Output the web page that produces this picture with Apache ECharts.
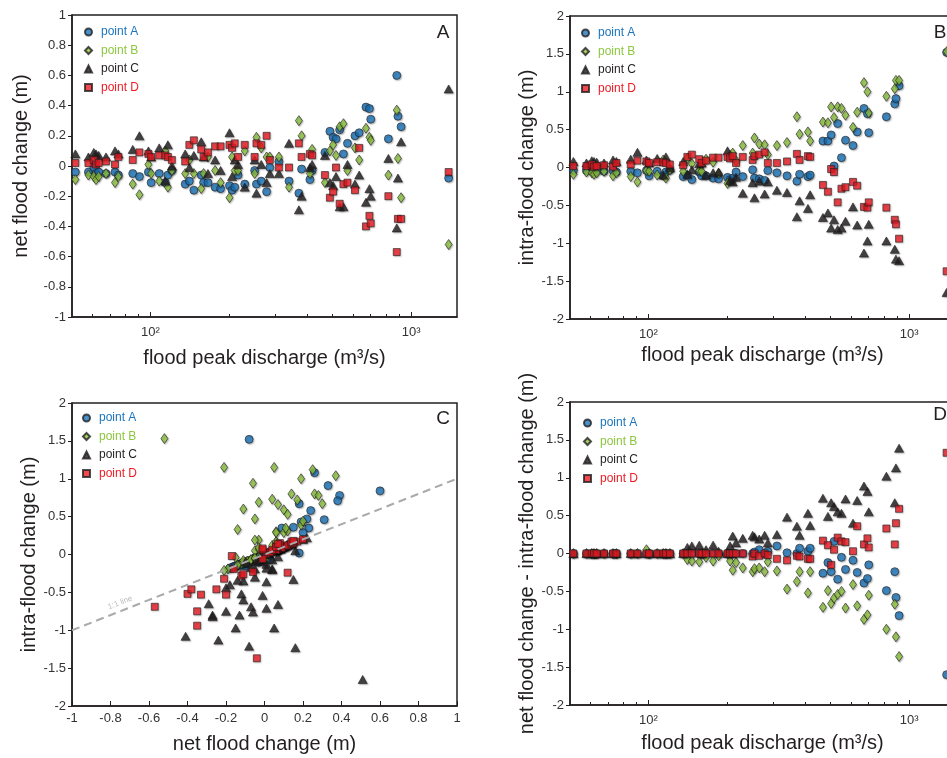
<!DOCTYPE html>
<html>
<head>
<meta charset="utf-8">
<title>Flood change vs. peak discharge</title>
<script src="https://cdn.jsdelivr.net/npm/echarts@6/dist/echarts.min.js"></script>
<style>
  html, body { margin: 0; padding: 0; overflow: hidden; background: #fff; }
  #chart { width: 1000px; height: 758px; }
</style>
</head>
<body>
<div id="chart"></div>
<script>
// ---- data: one entry per flood event ----
const discharge = [51.5, 57.8, 60.6, 61.8, 63.3, 67.5, 73.1, 75.3, 85.5, 90.7,
  98.2, 100.6, 108, 113.9, 116.6, 120.8, 135.9, 141, 146.7, 156.6,
  159.9, 166.2, 177, 185.8, 201, 205.6, 210.5, 216.7, 230, 251,
  255, 266, 279, 287, 311, 340, 371, 380, 409, 417,
  467, 488, 502, 515, 532, 550, 570, 609, 632, 671,
  692, 700, 818, 881, 890, 915, 1393];

// net flood change (m) at each survey point
const netA = [-0.04, -0.04, -0.01, -0.05, -0.04, -0.05, -0.04, -0.06, -0.05, -0.07,
  -0.04, -0.11, -0.05, -0.11, -0.06, -0.03, -0.12, -0.10, -0.16, -0.06,
  -0.11, -0.11, -0.14, -0.15, -0.13, -0.16, -0.14, -0.06, -0.12, -0.03,
  -0.12, -0.10, -0.17, -0.01, 0.03, -0.10, -0.18, -0.02, -0.09, -0.03,
  0.09, 0.23, 0.19, 0.18, 0.24, 0.08, 0.15, 0.20, 0.22, 0.39,
  0.38, 0.31, 0.18, 0.60, 0.33, 0.26, -0.08];
const netB = [-0.09, -0.06, -0.07, -0.09, -0.07, -0.05, -0.11, -0.07, -0.12, -0.19,
  0.01, -0.05, -0.10, 0.10, -0.14, -0.03, -0.05, 0.04, -0.05, -0.15,
  -0.05, 0.06, -0.03, -0.11, -0.21, 0.06, -0.03, -0.03, 0.10, -0.05,
  0.19, 0.12, 0.06, 0.06, 0.06, -0.14, 0.30, 0.20, -0.05, 0.11,
  -0.11, 0.10, 0.14, 0.07, 0.26, 0.28, -0.03, 0.12, 0.04, 0.25,
  0.19, 0.17, -0.06, 0.37, 0.05, -0.21, -0.52];
const netC = [0.08, 0.06, 0.09, 0.08, 0.07, 0.06, 0.10, 0.08, 0.11, 0.20,
  0.10, 0.06, 0.12, -0.10, 0.14, 0.00, 0.08, -0.01, 0.07, 0.16,
  0.06, -0.05, 0.04, -0.03, 0.22, -0.07, 0.04, 0.01, -0.14, 0.04,
  -0.18, 0.01, -0.11, -0.05, -0.05, 0.15, -0.29, -0.20, -0.01, 0.01,
  0.07, -0.11, -0.13, -0.07, -0.27, -0.27, 0.01, -0.12, -0.06, -0.24,
  -0.15, -0.20, 0.05, -0.41, -0.08, 0.16, 0.51];
const netD = [0.02, 0.02, 0.04, 0.01, 0.02, 0.03, 0.01, 0.06, 0.04, 0.09,
  0.08, 0.06, 0.07, 0.07, 0.06, 0.04, 0.03, 0.14, 0.17, 0.11,
  0.06, 0.09, 0.13, 0.13, 0.14, 0.12, 0.15, 0.06, 0.14, 0.06,
  0.15, 0.14, 0.20, 0.04, -0.01, -0.01, 0.15, 0.06, 0.08, 0.07,
  -0.06, -0.21, -0.17, -0.01, -0.25, -0.12, -0.11, -0.16, 0.12, -0.40,
  -0.33, -0.38, -0.20, -0.57, -0.35, -0.35, -0.04];

// intra-flood change (m) at each survey point
const intraA = [-0.04, -0.04, -0.01, -0.05, -0.04, -0.05, -0.04, -0.06, -0.05, -0.07,
  -0.04, -0.11, -0.05, -0.11, -0.06, -0.03, -0.12, -0.10, -0.16, -0.06,
  -0.11, -0.11, -0.14, -0.15, -0.13, -0.16, -0.14, -0.06, -0.12, -0.03,
  -0.14, -0.15, -0.17, -0.04, -0.07, -0.11, -0.18, -0.09, -0.12, -0.10,
  0.35, 0.35, 0.43, 0.02, 0.58, 0.13, 0.36, 0.29, 0.47, 0.78,
  0.71, 0.46, 0.67, 0.84, 0.91, 1.08, 1.52];
const intraB = [-0.09, -0.06, -0.07, -0.09, -0.07, -0.05, -0.11, -0.07, -0.12, -0.19,
  -0.04, -0.05, -0.10, 0.10, -0.14, -0.03, -0.05, 0.12, 0.05, -0.04,
  -0.05, 0.11, 0.07, -0.08, -0.21, 0.16, 0.19, 0.09, 0.29, 0.19,
  0.39, 0.31, 0.30, 0.17, 0.29, 0.33, 0.67, 0.44, 0.47, 0.35,
  0.60, 0.59, 0.80, 0.66, 0.80, 0.78, 0.69, 0.53, 0.73, 1.12,
  1.00, 0.72, 0.94, 1.04, 1.15, 1.15, 1.53];
const intraC = [0.08, 0.06, 0.09, 0.08, 0.07, 0.06, 0.10, 0.08, 0.11, 0.20,
  0.10, 0.06, 0.12, -0.10, 0.14, 0.00, 0.08, -0.09, -0.03, 0.05,
  0.06, -0.10, -0.07, -0.06, 0.22, -0.17, -0.19, -0.13, -0.34, -0.20,
  -0.40, -0.18, -0.35, -0.19, -0.30, -0.33, -0.65, -0.44, -0.54, -0.36,
  -0.66, -0.60, -0.80, -0.69, -0.82, -0.80, -0.71, -0.52, -0.76, -1.13,
  -0.97, -0.75, -0.97, -1.08, -1.21, -1.23, -1.65];
const intraD = [0.02, 0.02, 0.04, 0.01, 0.02, 0.03, 0.01, 0.06, 0.04, 0.09,
  0.08, 0.06, 0.07, 0.07, 0.06, 0.04, 0.03, 0.14, 0.17, 0.11,
  0.06, 0.09, 0.13, 0.13, 0.14, 0.12, 0.15, 0.06, 0.14, 0.10,
  0.15, 0.17, 0.20, 0.06, 0.06, 0.08, 0.18, 0.10, 0.15, 0.14,
  -0.23, -0.32, -0.02, -0.06, -0.46, -0.28, -0.26, -0.19, -0.24, -0.52,
  -0.53, -0.46, -0.53, -0.69, -0.75, -0.94, -1.37];

const pointNames = ['point A', 'point B', 'point C', 'point D'];
const logMinorTicks = [60, 70, 80, 90, 200, 300, 400, 500, 600, 700, 800, 900];
const oneToOne = [[-1, -1], [1, 1]];
const panelLetters = ['A', 'B', 'C', 'D'];

// ---- styling ----
const FONT = "'Liberation Sans', Arial, Helvetica, sans-serif";
const INK = '#231f20';
const TICK_TEXT = '#333';
const pointColors = ['#1c75bc', '#8dc63f', '#231f20', '#ed1c24'];
const pointSymbols = ['circle', 'diamond', 'triangle', 'rect'];
const pointSizes = [8, [7, 10], [9, 8], 7];

const netAll = [netA, netB, netC, netD];
const intraAll = [intraA, intraB, intraC, intraD];

const grids = [
  { left: 72,  top: 15,  width: 385, height: 302 },
  { left: 570, top: 16,  width: 385, height: 303 },
  { left: 72,  top: 403, width: 385, height: 303 },
  { left: 570, top: 402, width: 385, height: 303 }
];

const supDigits = { 1: '\u00b9', 2: '\u00b2', 3: '\u00b3', 4: '\u2074' };
function powerLabel(v) {
  const e = Math.log10(v);
  const r = Math.round(e);
  return Math.abs(e - r) < 1e-6 ? '10' + supDigits[r] : '';
}

function logAxis(gridIndex, nameGap) {
  return {
    type: 'log', logBase: 10, gridIndex: gridIndex, min: 50, max: 1500,
    name: 'flood peak discharge (m\u00b3/s)', nameLocation: 'middle', nameGap: nameGap,
    nameTextStyle: { fontSize: 20, color: INK, fontFamily: FONT },
    axisLine: { show: true, onZero: false, lineStyle: { color: INK, width: 1.5 } },
    axisTick: { show: true, inside: true, length: 5, lineStyle: { color: INK, width: 1 } },
    axisLabel: { formatter: powerLabel, fontSize: 13, color: TICK_TEXT, margin: 9, fontFamily: FONT,
                 showMinLabel: false, showMaxLabel: false },
    splitLine: { show: false }
  };
}
function minorLogAxis(gridIndex) {
  return {
    type: 'log', logBase: 10, gridIndex: gridIndex, min: 50, max: 1500, position: 'bottom',
    axisLine: { show: false, onZero: false }, axisLabel: { show: false }, splitLine: { show: false },
    axisTick: { show: true, inside: true, length: 3, customValues: logMinorTicks,
                lineStyle: { color: INK, width: 1 } }
  };
}
function valueAxis(gridIndex, min, max, interval, name, nameGap, isX) {
  return {
    type: 'value', gridIndex: gridIndex, min: min, max: max, interval: interval,
    name: name, nameLocation: 'middle', nameGap: nameGap,
    nameTextStyle: { fontSize: 20, color: INK, fontFamily: FONT },
    axisLine: { show: true, onZero: false, lineStyle: { color: INK, width: 1.5 } },
    axisTick: { show: true, inside: !!isX, length: isX ? 5 : 4, lineStyle: { color: INK, width: 1 } },
    axisLabel: { fontSize: 13, color: TICK_TEXT, margin: 6, fontFamily: FONT },
    splitLine: { show: false }
  };
}

const xAxes = [
  logAxis(0, 31), minorLogAxis(0),        // 0,1 panel A
  logAxis(1, 26), minorLogAxis(1),        // 2,3 panel B
  valueAxis(2, -1, 1, 0.2, 'net flood change (m)', 28, true), // 4 panel C
  logAxis(3, 28), minorLogAxis(3)         // 5,6 panel D
];
const yAxes = [
  valueAxis(0, -1, 1, 0.2, 'net flood change (m)', 41, false),
  valueAxis(1, -2, 2, 0.5, 'intra-flood change (m)', 31, false),
  valueAxis(2, -2, 2, 0.5, 'intra-flood change (m)', 31, false),
  valueAxis(3, -2, 2, 0.5, 'net flood change - intra-flood change (m)', 32, false)
];

function markerStyle(i) {
  return {
    color: pointColors[i], borderColor: INK, borderWidth: 0.8,
    shadowColor: 'rgba(0,0,0,0.3)', shadowBlur: 1.5, shadowOffsetX: 1, shadowOffsetY: 1
  };
}
function scatter(i, xIdx, yIdx, data) {
  return {
    type: 'scatter', name: pointNames[i], xAxisIndex: xIdx, yAxisIndex: yIdx,
    symbol: pointSymbols[i], symbolSize: pointSizes[i], itemStyle: markerStyle(i),
    data: data, clip: true, animation: false, silent: true
  };
}

const series = [];
// A: net change vs discharge
for (let i = 0; i < 4; i++) series.push(scatter(i, 0, 0, discharge.map((q, k) => [q, netAll[i][k]])));
// B: intra-flood change vs discharge
for (let i = 0; i < 4; i++) series.push(scatter(i, 2, 1, discharge.map((q, k) => [q, intraAll[i][k]])));
// C: intra vs net, with the 1:1 reference line
series.push({
  type: 'line', name: '1:1 line', xAxisIndex: 4, yAxisIndex: 2, data: [], silent: true, animation: false, z: 1,
  markLine: {
    silent: true, symbol: ['none', 'none'], animation: false,
    lineStyle: { type: [8, 5], color: '#aaa', width: 2 },
    label: { show: true, formatter: '1:1 line', position: 'insideStartTop', fontSize: 8,
             color: '#bbb', fontFamily: FONT, distance: [42, 4] },
    data: [[{ coord: oneToOne[0] }, { coord: oneToOne[1] }]]
  }
});
for (let i = 0; i < 4; i++) series.push(scatter(i, 4, 2, netAll[i].map((n, k) => [n, intraAll[i][k]])));
// D: difference between net and intra-flood change
for (let i = 0; i < 4; i++) series.push(scatter(i, 5, 3,
  discharge.map((q, k) => [q, Math.round((netAll[i][k] - intraAll[i][k]) * 100) / 100])));

const legendSpots = [[84, 26], [581, 27], [82, 412], [583, 417]];
const legends = legendSpots.map(p => ({
  orient: 'vertical', left: p[0], top: p[1], itemWidth: 7, itemHeight: 7, itemGap: 6.5,
  selectedMode: false, padding: 0,
  textStyle: { fontSize: 12, fontFamily: FONT, padding: [0, 0, 0, 4] },
  data: pointNames.map((n, i) => ({
    name: n, textStyle: { color: pointColors[i] },
    itemStyle: { shadowBlur: 0, shadowOffsetX: 0, shadowOffsetY: 0 }
  }))
}));

const letterSpots = [[443, 33], [940, 33], [443, 419], [940, 415]];
const graphics = letterSpots.map((p, i) => ({
  type: 'text', x: p[0], y: p[1], silent: true,
  style: { text: panelLetters[i], font: '19px ' + FONT, fill: INK, align: 'center', verticalAlign: 'middle' }
}));

const chart = echarts.init(document.getElementById('chart'), null, { renderer: 'canvas' });
chart.setOption({
  animation: false,
  backgroundColor: '#fff',
  textStyle: { fontFamily: FONT },
  grid: grids.map(g => Object.assign({ show: true, borderColor: INK, borderWidth: 1.5,
                                       backgroundColor: 'transparent', containLabel: false }, g)),
  xAxis: xAxes,
  yAxis: yAxes,
  legend: legends,
  graphic: graphics,
  series: series
});
</script>
</body>
</html>
